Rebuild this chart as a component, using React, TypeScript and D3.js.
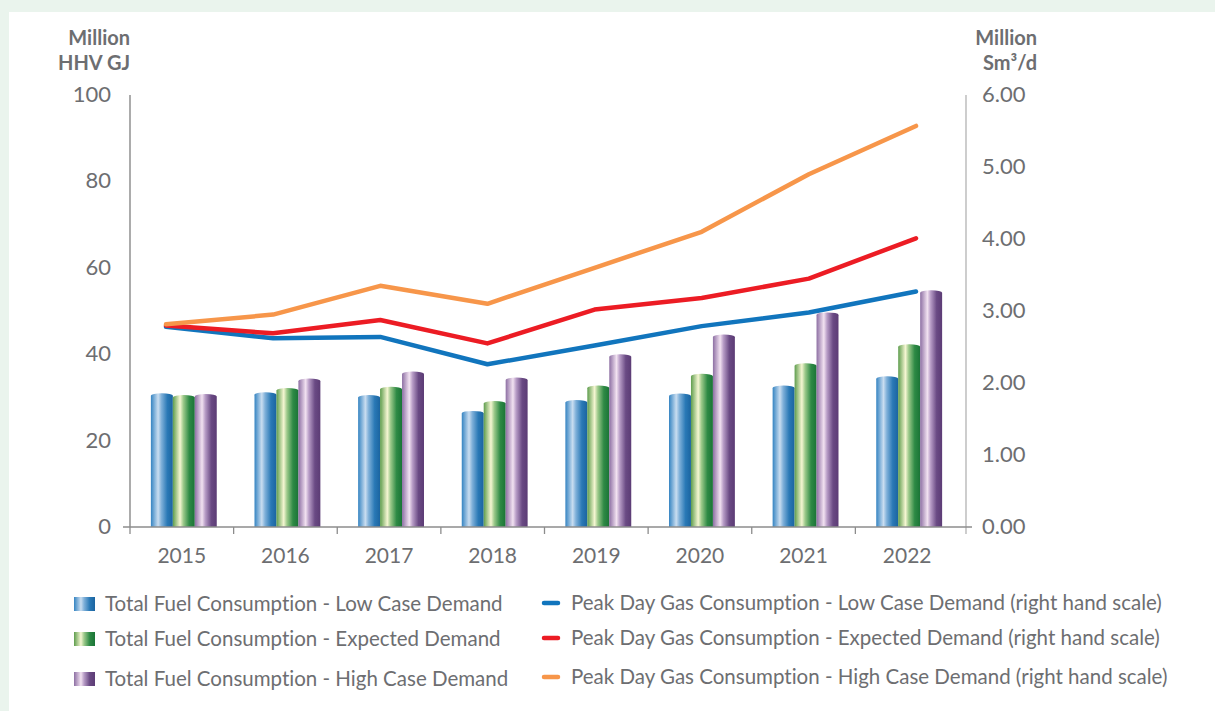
import React from "react";
import * as d3 from "d3";

const years = ["2015", "2016", "2017", "2018", "2019", "2020", "2021", "2022"];
const fuelLow = [30.4, 30.6, 30.0, 26.3, 28.8, 30.3, 32.2, 34.3];
const fuelExpected = [30.0, 31.6, 31.9, 28.6, 32.2, 34.9, 37.3, 41.7];
const fuelHigh = [30.2, 33.8, 35.4, 34.0, 39.4, 44.0, 49.1, 54.2];
const peakLow = [2.78, 2.62, 2.64, 2.26, 2.52, 2.79, 2.98, 3.27];
const peakExpected = [2.8, 2.69, 2.875, 2.55, 3.02, 3.18, 3.45, 4.01];
const peakHigh = [2.815, 2.95, 3.35, 3.1, 3.6, 4.1, 4.9, 5.57];
const leftTicks = [0, 20, 40, 60, 80, 100];
const rightTicks = [0, 1, 2, 3, 4, 5, 6];

const barSeries = [
  { name: "Total Fuel Consumption - Low Case Demand", values: fuelLow, grad: "gBlue" },
  { name: "Total Fuel Consumption - Expected Demand", values: fuelExpected, grad: "gGreen" },
  { name: "Total Fuel Consumption - High Case Demand", values: fuelHigh, grad: "gPurple" },
];
const lineSeries = [
  { name: "Peak Day Gas Consumption - Low Case Demand (right hand scale)", values: peakLow, color: "#1175bd" },
  { name: "Peak Day Gas Consumption - Expected Demand (right hand scale)", values: peakExpected, color: "#ec1c24" },
  { name: "Peak Day Gas Consumption - High Case Demand (right hand scale)", values: peakHigh, color: "#f7964a" },
];

const gradients = {
  gBlue: ["#3584c2", "#c9ddf0", "#7fb0d9", "#2a79b6", "#1b64a0"],
  gGreen: ["#5e9d4d", "#f5f6d2", "#9cc98a", "#2e8a45", "#1a7436"],
  gPurple: ["#8d6fa3", "#f2e2f1", "#b79cc6", "#6a4a84", "#5c3c75"],
};

const TEXT = "#6d6e71";
const FONT = "Lato, 'Noto Sans', sans-serif";

export default function App() {
  const W = 1215, H = 711;
  const y0 = 527, yTop = 95;
  const yL = d3.scaleLinear().domain([0, 100]).range([y0, yTop]);
  const yR = d3.scaleLinear().domain([0, 6]).range([y0, yTop]);
  const x0 = d3.scaleBand().domain(years).range([130, 959]).paddingInner(0).paddingOuter(0);
  const bw = x0.bandwidth();
  const inner = d3.scaleBand().domain(["0", "1", "2"]).range([2, bw + 2]).paddingOuter(0.86).paddingInner(0);
  const barW = inner.bandwidth();
  const xp = d3.scalePoint().domain(years).range([166, 916]);
  const line = d3.line<number>().x((_, i) => xp(years[i])!).y((v) => yR(v));
  const capRy = 2.5;

  return (
    <div style={{ position: "fixed", left: 0, top: 0 }}>
      <svg width={W} height={H} style={{ display: "block", fontFamily: FONT, fontVariantLigatures: "none" }}>
        <defs>
          {Object.entries(gradients).map(([id, c]) => (
            <linearGradient key={id} id={id} x1="0" x2="1" y1="0" y2="0">
              <stop offset="0%" stopColor={c[0]} />
              <stop offset="33%" stopColor={c[1]} />
              <stop offset="48%" stopColor={c[2]} />
              <stop offset="75%" stopColor={c[3]} />
              <stop offset="100%" stopColor={c[4]} />
            </linearGradient>
          ))}
        </defs>
        <rect x={0} y={0} width={W} height={H} fill="#eaf4ed" />
        <rect x={9} y={12} width={W - 9} height={H - 12} fill="#ffffff" />

        {/* axis titles */}
        <g fill={TEXT} fontWeight={700} fontSize={20}>
          <text x={130} y={45} textAnchor="end">Million</text>
          <text x={130} y={70} textAnchor="end">HHV GJ</text>
          <text x={1037} y={45} textAnchor="end">Million</text>
          <text x={1037} y={70} textAnchor="end">Sm³/d</text>
        </g>

        {/* tick labels */}
        <g fill={TEXT} fontSize={22}>
          {leftTicks.map((t) => (
            <text key={t} x={111} y={yL(t) + 7} textAnchor="end">{t}</text>
          ))}
          {rightTicks.map((t) => (
            <text key={t} x={982} y={yR(t) + 7}>{d3.format(".2f")(t)}</text>
          ))}
        </g>

        {/* bars */}
        {barSeries.map((s, si) => (
          <g key={s.name}>
            {s.values.map((v, i) => {
              const bx = x0(years[i])! + inner(String(si))!;
              const by = yL(v);
              return (
                <g key={i}>
                  <rect x={bx} y={by} width={barW} height={y0 - by} fill={`url(#${s.grad})`} />
                  <ellipse cx={bx + barW / 2} cy={by} rx={barW / 2} ry={capRy} fill={`url(#${s.grad})`} />
                </g>
              );
            })}
          </g>
        ))}

        {/* axes */}
        <line x1={130} x2={130} y1={yTop} y2={y0} stroke="#7f7f7f" strokeWidth={1.3} />
        <line x1={966} x2={966} y1={yTop} y2={y0 + 7} stroke="#b3b3b3" strokeWidth={1.3} />
        <line x1={123} x2={972} y1={y0} y2={y0} stroke="#8c8c8c" strokeWidth={1.3} />
        {years.map((yr) => (
          <line key={yr} x1={x0(yr)!} x2={x0(yr)!} y1={y0} y2={y0 + 7} stroke="#8c8c8c" strokeWidth={1.3} />
        ))}
        <g fill={TEXT} fontSize={21}>
          {years.map((yr) => (
            <text key={yr} x={x0(yr)! + bw / 2} y={563} textAnchor="middle">{yr}</text>
          ))}
        </g>

        {/* lines */}
        {lineSeries.map((s) => (
          <path key={s.name} d={line(s.values)!} fill="none" stroke={s.color} strokeWidth={4.5} strokeLinecap="round" strokeLinejoin="round" />
        ))}

        {/* legend */}
        <g fill={TEXT} fontSize={20.5}>
          {barSeries.map((s, i) => {
            const cy = [604, 639, 679][i];
            return (
              <g key={s.name}>
                <rect x={74} y={cy - 7} width={21} height={14} fill={`url(#${s.grad})`} />
                <text x={105} y={cy + 7}>{s.name}</text>
              </g>
            );
          })}
          {lineSeries.map((s, i) => {
            const cy = [603, 638, 677][i];
            return (
              <g key={s.name}>
                <line x1={544} x2={558} y1={cy} y2={cy} stroke={s.color} strokeWidth={4.5} strokeLinecap="round" />
                <text x={571} y={cy + 7}>{s.name}</text>
              </g>
            );
          })}
        </g>
      </svg>
    </div>
  );
}
